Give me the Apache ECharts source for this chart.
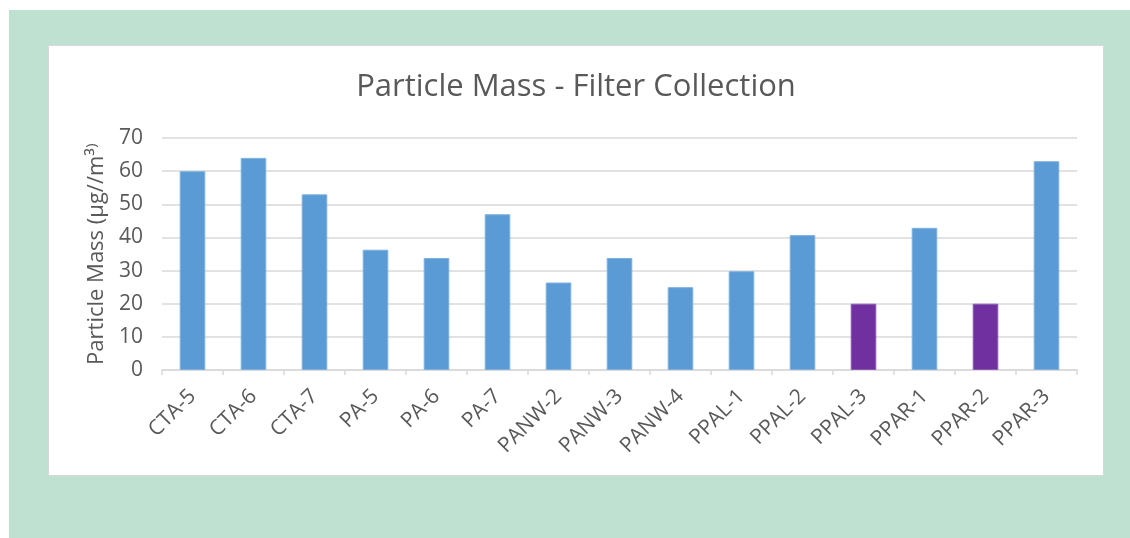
<!doctype html>
<html>

	<head>
		<meta charset="utf-8">
		<title></title>
		<script src="https://cdn.jsdelivr.net/npm/echarts@6/dist/echarts.min.js" type="text/javascript" charset="utf-8"></script>
		<style>
			body { margin: 0; background: #fff; }
			#bg { position: absolute; left: 9px; top: 10px; width: 1121px; height: 528px; background: #bfe1d2; }
			#box { position: absolute; left: 48px; top: 45px; width: 1054px; height: 429px; background: #fff; border: 1px solid #d9d9d9; }
			#container { width: 1054px; height: 429px; }
		</style>
	</head>

	<body>
		<div id="bg"></div>
		<div id="box">
			<div id="container"></div>
		</div>
	</body>
</html>
<script type="text/javascript">
	var categories = ['CTA-5', 'CTA-6', 'CTA-7', 'PA-5', 'PA-6', 'PA-7', 'PANW-2', 'PANW-3', 'PANW-4',
		'PPAL-1', 'PPAL-2', 'PPAL-3', 'PPAR-1', 'PPAR-2', 'PPAR-3'];
	var masses = [60, 64, 53, 36.3, 33.8, 47, 26.4, 33.8, 25, 29.8, 40.7, 20, 42.9, 20, 63];
	// PPAL-3 and PPAR-2 are drawn purple
	var highlighted = ['PPAL-3', 'PPAR-2'];
	var yTicks = [0, 10, 20, 30, 40, 50, 60, 70];

	var font = 'Open Sans';
	var grey = '#595959';

	var barData = [];
	for (var i = 0; i < masses.length; i++) {
		var purple = highlighted.indexOf(categories[i]) >= 0;
		barData.push({
			value: masses[i],
			itemStyle: {
				color: purple ? '#7030a0' : '#5b9bd5',
				borderColor: purple ? '#8a5bb0' : '#7fb1df',
				borderWidth: 1
			}
		});
	}

	var option = {
		animation: false,
		title: {
			text: 'Particle Mass - Filter Collection',
			left: 'center',
			top: 21,
			textStyle: {
				fontFamily: font,
				fontSize: 31,
				fontWeight: 'normal',
				color: grey
			}
		},
		grid: {
			left: 113,
			top: 92,
			width: 915,
			height: 232
		},
		xAxis: {
			type: 'category',
			data: categories,
			axisLine: { lineStyle: { color: '#d9d9d9', width: 1.5 } },
			axisTick: { show: true, length: 5, lineStyle: { color: '#d9d9d9', width: 1.5 } },
			axisLabel: {
				rotate: 45,
				margin: 23,
				fontFamily: font,
				fontSize: 21,
				color: grey,
				interval: 0
			}
		},
		yAxis: {
			type: 'value',
			min: yTicks[0],
			max: yTicks[yTicks.length - 1],
			interval: 10,
			name: 'Particle Mass (µg//m³⁾',
			nameLocation: 'middle',
			nameGap: 54,
			nameTextStyle: {
				fontFamily: font,
				fontSize: 22,
				color: grey
			},
			axisLine: { show: false },
			axisTick: { show: false },
			axisLabel: {
				margin: 19,
				fontFamily: font,
				fontSize: 21,
				color: grey
			},
			splitLine: { lineStyle: { color: '#d9d9d9', width: 1.5 } }
		},
		series: [{
			type: 'bar',
			barWidth: '42%',
			data: barData
		}]
	};

	var myChart = echarts.init(document.getElementById('container'));
	myChart.setOption(option);
</script>
